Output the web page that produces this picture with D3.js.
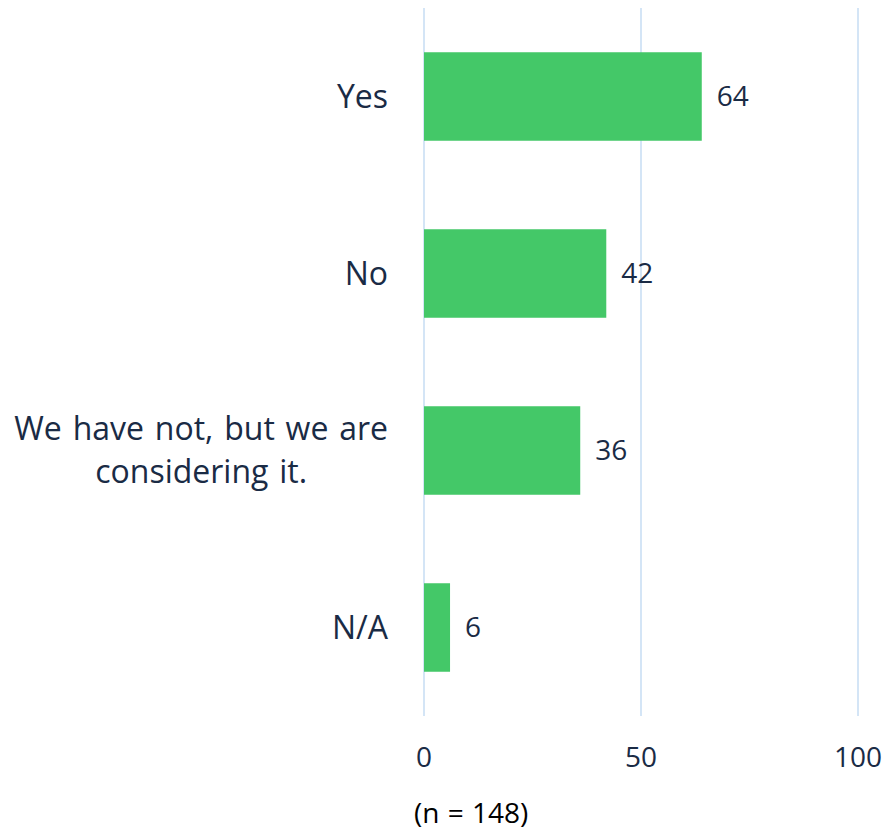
<!DOCTYPE html>
<html>
<head>
<meta charset="utf-8">
<script src="https://cdn.jsdelivr.net/npm/d3@7"></script>
<style>
  body { margin: 0; background: #fff; }
  svg text { font-family: "Open Sans", Lato, sans-serif; }
</style>
</head>
<body>
<div id="chart"></div>
<script>
const categories = ["Yes", "No", "We have not, but we are considering it.", "N/A"];
const labelLines = [["Yes"], ["No"], ["We have not, but we are", "considering it."], ["N/A"]];
const values = [64, 42, 36, 6];
const ticks = [0, 50, 100];
const note = "(n = 148)";

const width = 886, height = 831;
const textColor = "#1a2b45";

const svg = d3.select("#chart").append("svg")
  .attr("width", width).attr("height", height);

const x = d3.scaleLinear().domain([0, 100]).range([424, 858]);
const y = d3.scaleBand().domain(categories).range([8, 716])
  .paddingInner(0.5).paddingOuter(0.25);

// gridlines
svg.append("g").selectAll("line").data(ticks).join("line")
  .attr("x1", d => x(d)).attr("x2", d => x(d))
  .attr("y1", 8).attr("y2", 716)
  .style("stroke", "#c6dcf3").style("stroke-width", 1.5);

// bars
svg.append("g").selectAll("rect").data(values).join("rect")
  .attr("x", x(0))
  .attr("y", (d, i) => y(categories[i]))
  .attr("width", d => x(d) - x(0))
  .attr("height", y.bandwidth())
  .style("fill", "#44c868");

// value labels
svg.append("g").selectAll("text").data(values).join("text")
  .attr("x", d => x(d) + 15)
  .attr("y", (d, i) => y(categories[i]) + y.bandwidth() / 2)
  .attr("dy", "0.35em")
  .style("font-size", "28px")
  .style("fill", textColor)
  .text(d => d);

// category labels (multi-line ones centred within their own block)
const lineH = 43;
const cats = svg.append("g").selectAll("text").data(labelLines).join("text")
  .style("font-size", "32px")
  .style("word-spacing", "2.5px")
  .style("fill", textColor);
cats.each(function (lines, i) {
  const t = d3.select(this);
  const cy = y(categories[i]) + y.bandwidth() / 2;
  const spans = lines.map((s, j) => t.append("tspan")
    .attr("y", cy + (j - (lines.length - 1) / 2) * lineH)
    .attr("dy", "0.35em")
    .text(s));
  const w = d3.max(spans, s => s.node().getComputedTextLength());
  spans.forEach(s => s.attr("x", 388 - w / 2).attr("text-anchor", "middle"));
});

// axis tick labels
svg.append("g").selectAll("text").data(ticks).join("text")
  .attr("x", d => x(d))
  .attr("y", 757)
  .attr("dy", "0.35em")
  .attr("text-anchor", "middle")
  .style("font-size", "28px")
  .style("fill", textColor)
  .text(d => d);

svg.append("text")
  .attr("x", 414).attr("y", 813).attr("dy", "0.35em")
  .style("font-size", "28px")
  .style("word-spacing", "1px")
  .style("fill", "#000")
  .text(note);
</script>
</body>
</html>
